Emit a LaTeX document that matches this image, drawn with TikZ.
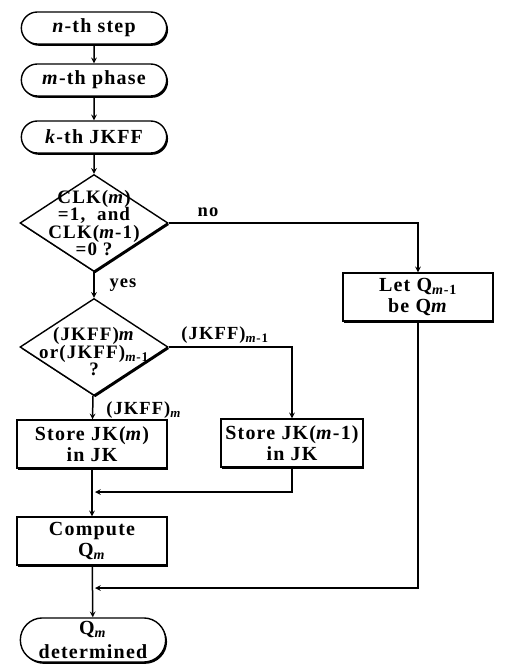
\documentclass[tikz,border=0pt]{standalone}
\usepackage{fontspec}
\setmainfont{Liberation Serif}[LetterSpace=6]
\usepackage{tikz}
\usetikzlibrary{shapes,arrows,positioning,shadows}

\begin{document}
\begin{tikzpicture}[
    x=1pt, y=-1pt,
    shadowed/.style={draw, line width=1.4pt, fill=white, drop shadow={shadow xshift=1.4pt, shadow yshift=-1.8pt, opacity=1, fill=black}},
    terminal/.style={shadowed, rounded rectangle, minimum width=152pt, minimum height=32pt, font=\bfseries\fontsize{20}{24}\selectfont},
    process/.style={shadowed, rectangle, minimum width=150pt, minimum height=48pt, align=center, font=\bfseries\fontsize{20}{21}\selectfont},
    decision/.style={shadowed, diamond, minimum width=148pt, minimum height=97pt, inner sep=0pt},
    inside/.style={align=center, inner sep=0pt, font=\bfseries\fontsize{19}{17.5}\selectfont},
    tag/.style={font=\bfseries\fontsize{18.5}{18}\selectfont, inner sep=1pt},
    arrow/.style={->, >=stealth, line width=1.5pt}
]
\useasboundingbox (0,0) rectangle (504,668);

\node[terminal] (nstep) at (94,28) {\textit{n}-th step};
\node[terminal] (mphase) at (94,80) {\textit{m}-th phase};
\node[terminal] (kjkff) at (94,137) {\textit{k}-th JKFF};

\node[decision] (clk) at (94,223) {};
\node[inside] (clktext) at (clk) {CLK(\textit{m})\\=1,\ \ and\\CLK(\textit{m}-1)\\=0 ?};

\node[decision] (which) at (94,347) {};
\node[inside] (whichtext) at ([yshift=-5pt]which) {(JKFF)\textit{m}\\or(JKFF)\textsubscript{\textit{m}-1}\\?};

\node[process] (letq) at (418,297) {Let Q\textsubscript{\textit{m}-1}\\be Q\textit{m}};
\node[process] (storem) at (92,444) {Store JK(\textit{m})\\in JK};
\node[process, minimum width=142pt] (storem1) at (292,443) {Store JK(\textit{m}-1)\\in JK};
\node[process] (compute) at (92,541) {Compute\\Q\textsubscript{\textit{m}}};
\node[terminal, minimum height=44pt, align=center] (qdet) at (93,640) {Q\textsubscript{\textit{m}}\\determined};

\coordinate (merge1) at (95,492);
\coordinate (merge2) at (95,588);

\draw[arrow] (nstep) -- (mphase);
\draw[arrow] (mphase) -- (kjkff);
\draw[arrow] (kjkff) -- (clk);
\draw[arrow] (clk.east) -| (letq.north);
\draw[arrow] (clk) -- (which);
\draw[arrow] (which.east) -| (storem1.north);
\draw[arrow] (which) -- (storem);
\draw[arrow] (storem) -- (compute);
\draw[arrow] (storem1.south) |- (merge1);
\draw[arrow] (compute) -- (qdet);
\draw[arrow] (letq.south) |- (merge2);

\node[tag] (nolabel) at (208,212) {no};
\node[tag] (yeslabel) at (123,285) {yes};
\node[tag] (m1label) at (225,335) {(JKFF)\textsubscript{\textit{m}-1}};
\node[tag] (mlabel) at (144,410) {(JKFF)\textsubscript{\textit{m}}};

\end{tikzpicture}
\end{document}
